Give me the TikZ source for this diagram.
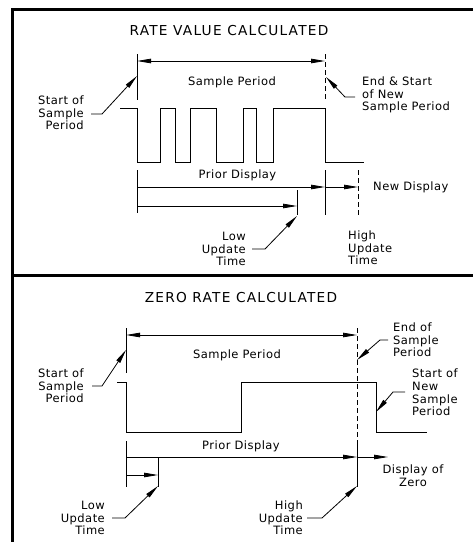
\documentclass[tikz,border=0pt]{standalone}
\usepackage{fontspec}
\setmainfont{DejaVu Sans}[LetterSpace=4]
\newfontfamily\titlefont{DejaVu Sans}[LetterSpace=9]
\usetikzlibrary{arrows.meta}
\begin{document}
\begin{tikzpicture}[x=1pt,y=-1pt,
  frame/.style={line width=2.8pt},
  ln/.style={line width=0.8pt},
  tip/.style={-{Triangle[length=14pt,width=4.5pt]}},
  dim/.style={{Triangle[length=14pt,width=4.5pt]}-{Triangle[length=14pt,width=4.5pt]}},
  dsh/.style={dash pattern=on 5pt off 3pt},
  lbl/.style={inner sep=0pt, font=\fontsize{11.5}{12.7}\selectfont},
  ttl/.style={inner sep=0pt, font=\titlefont\fontsize{13.7}{16}\selectfont}]
\useasboundingbox (0,0) rectangle (473,542);
% frame
\draw[frame] (12.5,542) -- (12.5,9.6) -- (473,9.6);
\draw[frame] (12.5,275.5) -- (473,275.5);

% ================= panel 1 =================
\node[ttl] (t1) at (229,31) {RATE VALUE CALCULATED};
\coordinate (a1t) at (137,54);  \coordinate (a1b) at (137,100);
\coordinate (b1t) at (325,54);  \coordinate (b1b) at (325,100);
\draw[ln] (a1t) -- (a1b);
\draw[ln,dsh] (b1t) -- (b1b);
\coordinate (d1l) at (137,61); \coordinate (d1r) at (325,61);
\draw[ln,dim] (d1l) -- (d1r);
\node[lbl] (sp1) at (232,82) {Sample Period};
% start of sample period
\node[lbl,align=right,anchor=east] (ss1) at (84,113) {Start of\\Sample\\Period};
\coordinate (ss1a) at (91,114); \coordinate (ss1b) at (102,114); \coordinate (ss1c) at (137,76);
\draw[ln,tip] (ss1a) -- (ss1b) -- (ss1c);
% end & start
\node[lbl,align=left,anchor=west] (es1) at (362,95) {End \& Start\\of New\\Sample Period};
\coordinate (es1a) at (355,97); \coordinate (es1b) at (345,97); \coordinate (es1c) at (326,77);
\draw[ln,tip] (es1a) -- (es1b) -- (es1c);
% waveform
\draw[ln] (120,108) -- (137,108) -- (137,162) -- (160,162) -- (160,108) -- (175,108) -- (175,162)
  -- (190,162) -- (190,108) -- (216,108) -- (216,162) -- (243,162) -- (243,108) -- (256,108)
  -- (256,162) -- (273,162) -- (273,108) -- (325,108) -- (325,162) -- (364,162);
% display
\node[lbl] (pd1) at (237.5,175) {Prior Display};
\coordinate (p1a) at (137,170); \coordinate (p1b) at (137,213);
\coordinate (p1c) at (325,170); \coordinate (p1d) at (325,215);
\coordinate (p1e) at (358,170); \coordinate (p1f) at (358,215);
\coordinate (p1g) at (297,190); \coordinate (p1h) at (297,215);
\draw[ln] (p1a) -- (p1b);
\draw[ln] (p1c) -- (p1d);
\draw[ln,dsh] (p1e) -- (p1f);
\draw[ln] (p1g) -- (p1h);
\coordinate (r1a) at (137,187); \coordinate (r1b) at (325,187); \coordinate (r1c) at (358,187);
\draw[ln,tip] (r1a) -- (r1b);
\draw[ln,tip] (r1b) -- (r1c);
\coordinate (r1d) at (137,206); \coordinate (r1e) at (297,206);
\draw[ln,tip] (r1d) -- (r1e);
\node[lbl,anchor=west] (nd1) at (373,187) {New Display};
\node[lbl,align=right,anchor=east] (lu1) at (246,249) {Low\\Update\\Time};
\coordinate (lu1a) at (252,249); \coordinate (lu1b) at (265,249); \coordinate (lu1c) at (297,216);
\draw[ln,tip] (lu1a) -- (lu1b) -- (lu1c);
\node[lbl,align=left,anchor=west] (hu1) at (348,248) {High\\Update\\Time};

% ================= panel 2 =================
\node[ttl] (t2) at (241,298) {ZERO RATE CALCULATED};
\coordinate (a2t) at (126,328);  \coordinate (a2b) at (126,373);
\coordinate (b2t) at (357,328);  \coordinate (b2b) at (357,441);
\draw[ln] (a2t) -- (a2b);
\draw[ln,dsh] (b2t) -- (b2b);
\coordinate (d2l) at (126,335); \coordinate (d2r) at (357,335);
\draw[ln,dim] (d2l) -- (d2r);
\node[lbl] (sp2) at (237,355) {Sample Period};
\node[lbl,align=right,anchor=east] (ss2) at (84,386) {Start of\\Sample\\Period};
\coordinate (ss2a) at (92,386); \coordinate (ss2b) at (102,386); \coordinate (ss2c) at (126,350);
\draw[ln,tip] (ss2a) -- (ss2b) -- (ss2c);
\node[lbl,align=left,anchor=west] (ee2) at (393,340) {End of\\Sample\\Period};
\coordinate (ee2a) at (388,340); \coordinate (ee2b) at (380,340); \coordinate (ee2c) at (357,360);
\draw[ln,tip] (ee2a) -- (ee2b) -- (ee2c);
% waveform
\draw[ln] (117,382) -- (126,382) -- (126,432) -- (241,432) -- (241,382) -- (376,382) -- (376,432) -- (427,432);
\node[lbl,align=left,anchor=west] (sn2) at (412,392.5) {Start of\\New\\Sample\\Period};
\coordinate (sn2a) at (405,392); \coordinate (sn2b) at (393,392); \coordinate (sn2c) at (376,412);
\draw[ln,tip] (sn2a) -- (sn2b) -- (sn2c);
% display
\node[lbl] (pd2) at (241,446) {Prior Display};
\coordinate (p2a) at (126,441); \coordinate (p2b) at (126,487);
\coordinate (p2c) at (158,458); \coordinate (p2d) at (158,487);
\coordinate (p2e) at (357,487);
\draw[ln] (p2a) -- (p2b);
\draw[ln] (p2c) -- (p2d);
\draw[ln] (b2b) -- (p2e);
\coordinate (r2a) at (126,457); \coordinate (r2b) at (357,457); \coordinate (r2c) at (388,457);
\draw[ln,tip] (r2a) -- (r2b);
\draw[ln,tip] (r2b) -- (r2c);
\coordinate (r2d) at (126,475); \coordinate (r2e) at (158,475);
\draw[ln,tip] (r2d) -- (r2e);
\node[lbl,align=center] (dz2) at (413,476) {Display of\\Zero};
\node[lbl,align=right,anchor=east] (lu2) at (105,518) {Low\\Update\\Time};
\coordinate (lu2a) at (112,518); \coordinate (lu2b) at (125,518); \coordinate (lu2c) at (158,486);
\draw[ln,tip] (lu2a) -- (lu2b) -- (lu2c);
\node[lbl,align=right,anchor=east] (hu2) at (303,518) {High\\Update\\Time};
\coordinate (hu2a) at (307,518); \coordinate (hu2b) at (322,518); \coordinate (hu2c) at (357,486);
\draw[ln,tip] (hu2a) -- (hu2b) -- (hu2c);
\end{tikzpicture}
\end{document}
